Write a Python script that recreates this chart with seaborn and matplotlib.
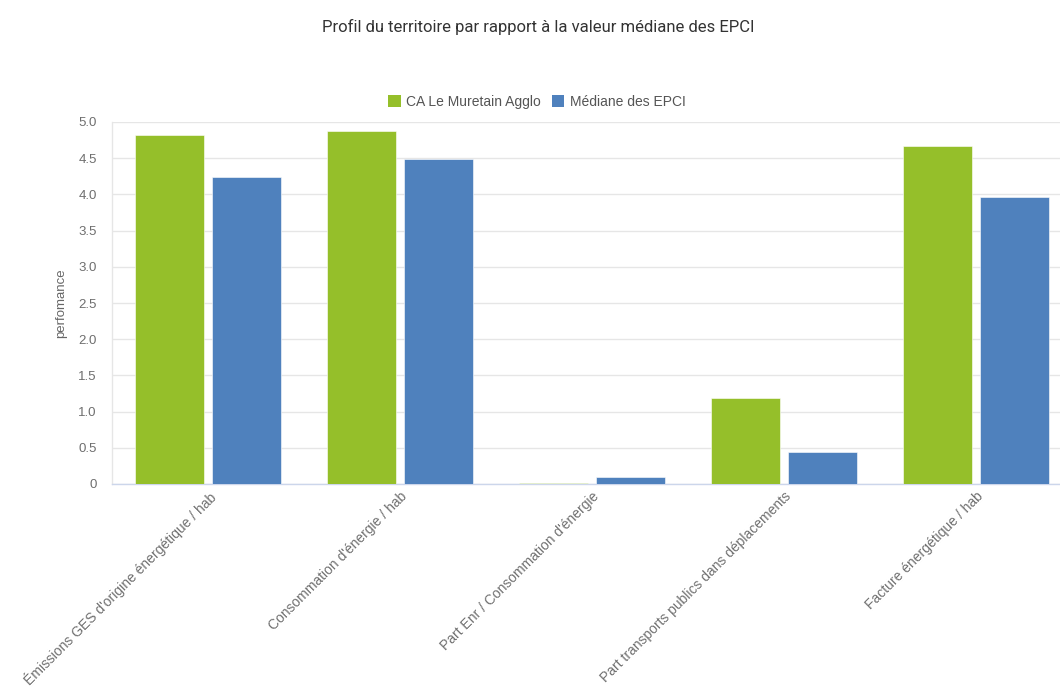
import matplotlib
matplotlib.use("Agg")
import matplotlib.pyplot as plt
import seaborn as sns
import pandas as pd

categories = [
    "Émissions GES d'origine énergétique / hab",
    "Consommation d'énergie / hab",
    "Part Enr / Consommation d'énergie",
    "Part transports publics dans déplacements",
    "Facture énergétique / hab",
]
territoire = [4.82, 4.88, 0.02, 1.19, 4.67]
mediane = [4.24, 4.49, 0.10, 0.44, 3.96]
series_names = ["CA Le Muretain Agglo", "Médiane des EPCI"]
y_ticks = [0, 0.5, 1.0, 1.5, 2.0, 2.5, 3.0, 3.5, 4.0, 4.5, 5.0]
y_tick_labels = ["0", "0.5", "1.0", "1.5", "2.0", "2.5", "3.0", "3.5", "4.0", "4.5", "5.0"]

df = pd.DataFrame({
    "indicateur": categories * 2,
    "valeur": territoire + mediane,
    "serie": [series_names[0]] * len(categories) + [series_names[1]] * len(categories),
})

sns.set_theme(style="white")
plt.rcParams["font.family"] = ["Liberation Sans", "DejaVu Sans"]

W, H = 1060, 690
fig = plt.figure(figsize=(W / 100, H / 100), dpi=100)
ax = fig.add_axes([112 / W, (H - 484) / H, (1072 - 112) / W, (484 - 122) / H])

palette = {series_names[0]: "#95bf2a", series_names[1]: "#4f81bd"}
sns.barplot(data=df, x="indicateur", y="valeur", hue="serie", order=categories,
            hue_order=series_names, palette=palette, width=0.8, gap=0.1,
            edgecolor="white", linewidth=0.4, saturation=1, ax=ax, legend=False,
            zorder=3)

ax.set_xlim(-0.5, len(categories) - 0.5)
ax.set_ylim(0, 5.0)
ax.set_yticks(y_ticks)
ax.set_yticklabels(y_tick_labels)
ax.yaxis.grid(True, color="#e6e6e6", linewidth=1, zorder=0)
ax.set_axisbelow(True)

for side in ["top", "right"]:
    ax.spines[side].set_visible(False)
ax.spines["left"].set_color("#e6e6e6")
ax.spines["left"].set_linewidth(1)
ax.spines["bottom"].set_color("#ccd6eb")
ax.spines["bottom"].set_linewidth(1)

ax.tick_params(axis="y", labelsize=9.5, labelcolor="#6e6e6e", length=0, pad=11)
ax.tick_params(axis="x", labelsize=10.0, labelcolor="#707070", length=0, pad=4)
for lbl in ax.get_xticklabels():
    lbl.set_rotation(45)
    lbl.set_ha("right")
    lbl.set_va("top")
    lbl.set_rotation_mode("anchor")

ax.set_xlabel("")
ax.set_ylabel("perfomance", fontsize=9.5, color="#666666", labelpad=8)

fig.text(538 / W, 1 - 27 / H, "Profil du territoire par rapport à la valeur médiane des EPCI",
         ha="center", va="center", fontsize=12, color="#333333", family=["Roboto", "DejaVu Sans"])

handles = [plt.Rectangle((0, 0), 1, 1, facecolor=palette[s], edgecolor="none") for s in series_names]
fig.legend(handles, series_names, loc="center", bbox_to_anchor=(537 / W, 1 - 102 / H),
           ncol=2, frameon=False, fontsize=10, labelcolor="#555555",
           handlelength=0.9, handleheight=0.9, handletextpad=0.4, columnspacing=0.8)

fig.savefig("out.png", dpi=100)
